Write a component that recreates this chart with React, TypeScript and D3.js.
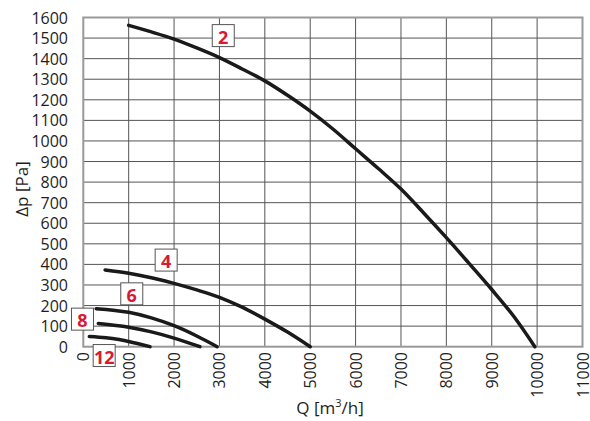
import React from "react";
import * as d3 from "d3";

const qTicks = [0, 1000, 2000, 3000, 4000, 5000, 6000, 7000, 8000, 9000, 10000, 11000];
const pTicks = [0, 100, 200, 300, 400, 500, 600, 700, 800, 900, 1000, 1100, 1200, 1300, 1400, 1500, 1600];

const curve2: [number, number][] = [
  [1000, 1562], [1500, 1530], [2000, 1495], [2500, 1452], [3000, 1405], [3500, 1350],
  [4000, 1292], [4500, 1222], [5000, 1145], [5500, 1058], [6000, 962], [6500, 866],
  [7000, 766], [7500, 650], [8000, 530], [8500, 405], [9000, 278], [9500, 143], [9950, 0],
];
const curve4: [number, number][] = [
  [480, 373], [1000, 357], [1500, 335], [2000, 308], [2500, 276], [3000, 240],
  [3500, 192], [4000, 134], [4500, 71], [5000, 0],
];
const curve6: [number, number][] = [
  [283, 185], [1000, 167], [1500, 140], [2000, 102], [2500, 52], [2950, 0],
];
const curve8: [number, number][] = [
  [330, 113], [1000, 95], [1500, 72], [2000, 42], [2570, 0],
];
const curve12: [number, number][] = [
  [133, 49], [500, 43], [750, 36], [1000, 25], [1470, 0],
];

const seriesNames = ["2", "4", "6", "8", "12"];
const seriesData = [curve2, curve4, curve6, curve8, curve12];
// label anchor (box centre) in data units
const labelQ = [3084, 1826, 1068, -18, 460];
const labelP = [1512, 421, 257, 134, -43];

const W = 590;
const H = 421;
const font = "'Open Sans', 'Noto Sans', sans-serif";

export default function App() {
  const x = d3.scaleLinear().domain([0, 11000]).range([83.3, 582.5]);
  const y = d3.scaleLinear().domain([0, 1600]).range([346.7, 17.5]);
  const line = d3
    .line<[number, number]>()
    .x((d) => x(d[0]))
    .y((d) => y(d[1]))
    .curve(d3.curveMonotoneX);

  const red = "#d91a32";
  const ink = "#1e1e1e";

  return (
    <svg
      width={W}
      height={H}
      style={{ position: "absolute", left: 0, top: 0, background: "#fff" }}
      fontFamily={font}
    >
      <rect x={0} y={0} width={W} height={H} fill="#fff" />
      {/* grid */}
      {qTicks.slice(1, -1).map((q) => (
        <line key={"gx" + q} x1={x(q)} x2={x(q)} y1={y(1600)} y2={y(0)} stroke="#555" strokeWidth={1} />
      ))}
      {pTicks.slice(1, -1).map((p) => (
        <line key={"gy" + p} x1={x(0)} x2={x(11000)} y1={y(p)} y2={y(p)} stroke="#555" strokeWidth={1} />
      ))}
      {/* frame */}
      <rect
        x={x(0)}
        y={y(1600)}
        width={x(11000) - x(0)}
        height={y(0) - y(1600)}
        fill="none"
        stroke="#999"
        strokeWidth={2}
      />
      {/* y tick labels */}
      {pTicks.map((p) => (
        <text key={"ty" + p} x={68} y={y(p)} textAnchor="end" dominantBaseline="central" fontSize={16} fill={ink}>
          {p}
        </text>
      ))}
      {/* x tick labels */}
      {qTicks.map((q) => (
        <text
          key={"tx" + q}
          transform={`translate(${x(q)},${352}) rotate(-90)`}
          textAnchor="end"
          dominantBaseline="central"
          fontSize={16}
          fill={ink}
        >
          {q}
        </text>
      ))}
      {/* axis titles */}
      <text
        transform={`translate(21,189) rotate(-90)`}
        textAnchor="middle"
        dominantBaseline="central"
        fontSize={17}
        fill={ink}
      >
        Δp [Pa]
      </text>
      <text x={330} y={414} textAnchor="middle" fontSize={17} fill={ink}>
        Q [m
        <tspan dy={-7} fontSize={11}>3</tspan>
        <tspan dy={7}>/h]</tspan>
      </text>
      {/* curves */}
      {seriesData.map((d, i) => (
        <path
          key={"c" + i}
          d={line(d) || ""}
          fill="none"
          stroke="#1a1a1a"
          strokeWidth={3.5}
          strokeLinecap="round"
        />
      ))}
      {/* labels */}
      {seriesNames.map((n, i) => {
        const cx = x(labelQ[i]);
        const cy = y(labelP[i]);
        return (
          <g key={"l" + n}>
            <rect x={cx - 11} y={cy - 11} width={22} height={22} fill="#fff" stroke="#555" strokeWidth={1} />
            <text
              x={cx}
              y={cy + 1}
              textAnchor="middle"
              dominantBaseline="central"
              fontSize={18}
              fontWeight="bold"
              fill={red}
            >
              {n}
            </text>
          </g>
        );
      })}
    </svg>
  );
}
